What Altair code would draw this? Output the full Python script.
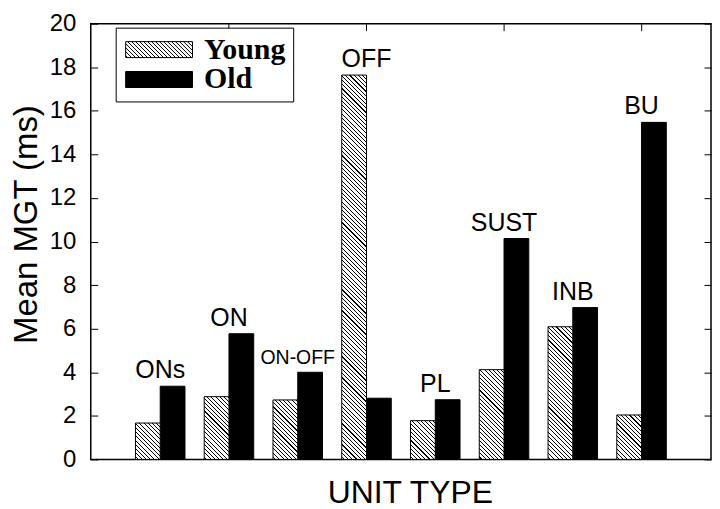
import altair as alt
import pandas as pd

categories = ["ONs", "ON", "ON-OFF", "OFF", "PL", "SUST", "INB", "BU"]
young = [1.67, 2.88, 2.73, 17.64, 1.78, 4.12, 6.09, 2.04]
old = [3.36, 5.77, 4.00, 2.81, 2.74, 10.14, 6.97, 15.47]
series = ["Young", "Old"]
y_ticks = list(range(0, 21, 2))
top_ticks = ["ON", "OFF", "SUST", "BU"]

W, H = 622, 437
P_IN, P_OUT = 0.28, 0.65
STEP = W / (len(categories) - P_IN + 2 * P_OUT)
BAR_W = STEP * (1 - P_IN) / 2
FONT = "Liberation Sans"

rows = []
for c, a, b in zip(categories, young, old):
    rows.append({"unit": c, "series": "Young", "value": a})
    rows.append({"unit": c, "series": "Old", "value": b})
df = pd.DataFrame(rows)
lab = pd.DataFrame({"unit": categories, "top": [max(a, b) for a, b in zip(young, old)]})

yscale = alt.Scale(domain=[0, 20], nice=False, zero=True)
xscale = alt.Scale(domain=categories, paddingInner=P_IN, paddingOuter=P_OUT)
offscale = alt.Scale(domain=series, paddingInner=0, paddingOuter=0)


def xenc(axis):
    return alt.X("unit:N", sort=categories, scale=xscale, axis=axis)


def hatch(h, w, period=4.2, lw=1.1):
    L = w + h
    stops = [alt.GradientStop(color="white", offset=0)]
    pos = period / 2
    while pos + lw < L:
        a = pos / L
        b = (pos + lw) / L
        stops += [alt.GradientStop(color="white", offset=a),
                  alt.GradientStop(color="black", offset=a),
                  alt.GradientStop(color="black", offset=b),
                  alt.GradientStop(color="white", offset=b)]
        pos += period
    stops.append(alt.GradientStop(color="white", offset=1))
    d = w * w + h * h
    return alt.LinearGradient(gradient="linear", stops=stops, x1=0, y1=1,
                              x2=(w + h) * w / d, y2=1 - (w + h) * h / d)


# legend symbol: hatched rectangle path (67 x 16 px at size 256)
def legend_path(a=4.1875, sp=0.5):
    parts = [f"M{-a:.3f},-1H{a:.3f}V1H{-a:.3f}Z"]
    c = -a - 1 + sp / 2
    while c < a + 1:
        xs = max(c - 1, -a)
        xe = min(c + 1, a)
        if xe - xs > 0.02:
            parts.append(f"M{xs:.3f},{xs - c:.3f}L{xe:.3f},{xe - c:.3f}")
        c += sp
    return "".join(parts)


SYM = legend_path()

left_axis = alt.Axis(orient="left", values=y_ticks, title="Mean MGT (ms)", titleFont=FONT, titleFontSize=33,
                     titleFontWeight="normal", titleColor="black", titlePadding=6, titleY=201,
                     labelFont=FONT, labelFontSize=24, labelColor="black", labelPadding=15,
                     domain=False, grid=False, ticks=False)
# inward ticks on the left edge
left_ticks = alt.Axis(orient="right", offset=-W, values=y_ticks, title=None, labels=False,
                      domain=False, grid=False, tickSize=7, tickColor="black", tickWidth=1)
# inward ticks on the right edge
right_ticks = alt.Axis(orient="left", offset=-W, values=y_ticks, title=None, labels=False,
                       domain=False, grid=False, tickSize=7, tickColor="black", tickWidth=1)
bottom_axis = alt.Axis(orient="bottom", title="UNIT TYPE", titleFont=FONT, titleFontSize=32,
                       titleFontWeight="normal", titleColor="black", titlePadding=18,
                       titleX=320, labels=False, ticks=False, domain=False, grid=False)
# inward ticks on the top edge
top_ticks_axis = alt.Axis(orient="bottom", offset=-H, values=top_ticks, title=None, labels=False,
                          domain=False, grid=False, tickSize=7, tickColor="black", tickWidth=1)

layers = []

old_layer = alt.Chart(df).transform_filter(alt.datum.series == "Old").mark_bar(
    fill="black", stroke="black", strokeWidth=1
).encode(
    x=xenc(bottom_axis),
    xOffset=alt.XOffset("series:N", scale=offscale),
    y=alt.Y("value:Q", scale=yscale, axis=left_axis),
)
layers.append(old_layer)

extra_y_axes = [left_ticks, right_ticks]
for i, (c, v) in enumerate(zip(categories, young)):
    h = v / 20 * H
    yax = extra_y_axes[i] if i < len(extra_y_axes) else None
    layers.append(
        alt.Chart(df).transform_filter(
            (alt.datum.series == "Young") & (alt.datum.unit == c)
        ).mark_bar(fill=hatch(h, BAR_W), stroke="black", strokeWidth=1).encode(
            x=xenc(None),
            xOffset=alt.XOffset("series:N", scale=offscale),
            y=alt.Y("value:Q", scale=yscale, axis=yax),
        )
    )

text_layer = alt.Chart(lab).mark_text(baseline="alphabetic", dy=-8, font=FONT, color="black").encode(
    x=xenc(top_ticks_axis),
    y=alt.Y("top:Q", scale=yscale, axis=None),
    text="unit:N",
    size=alt.condition("datum.unit == 'ON-OFF'", alt.value(19.5), alt.value(25)),
)
layers.append(text_layer)

legend_layer = alt.Chart(df).mark_point(opacity=0, filled=True, shape=SYM, size=256).encode(
    x=xenc(None),
    xOffset=alt.XOffset("series:N", scale=offscale),
    y=alt.Y("value:Q", scale=yscale, axis=None),
    fill=alt.Fill("series:N", scale=alt.Scale(domain=series, range=["white", "black"]),
                  legend=alt.Legend(title=None, orient="none", legendX=25, legendY=4,
                                    symbolType=SYM, symbolSize=256, symbolStrokeColor="black",
                                    symbolStrokeWidth=1, symbolOpacity=1, symbolOffset=21.5,
                                    labelOffset=30, labelFont="Liberation Serif", labelFontSize=30,
                                    labelFontWeight="bold", labelColor="black", strokeColor="black",
                                    fillColor="white", padding=7, rowPadding=0, cornerRadius=0)),
)
layers.append(legend_layer)

chart = alt.layer(*layers).resolve_axis(x="independent", y="independent").properties(
    width=W, height=H, padding={"left": 2, "top": 3, "right": 0, "bottom": 0}
).configure_view(stroke="black", strokeWidth=1.5)

chart.save("out.html", embed_options={"renderer": "svg", "actions": False})
